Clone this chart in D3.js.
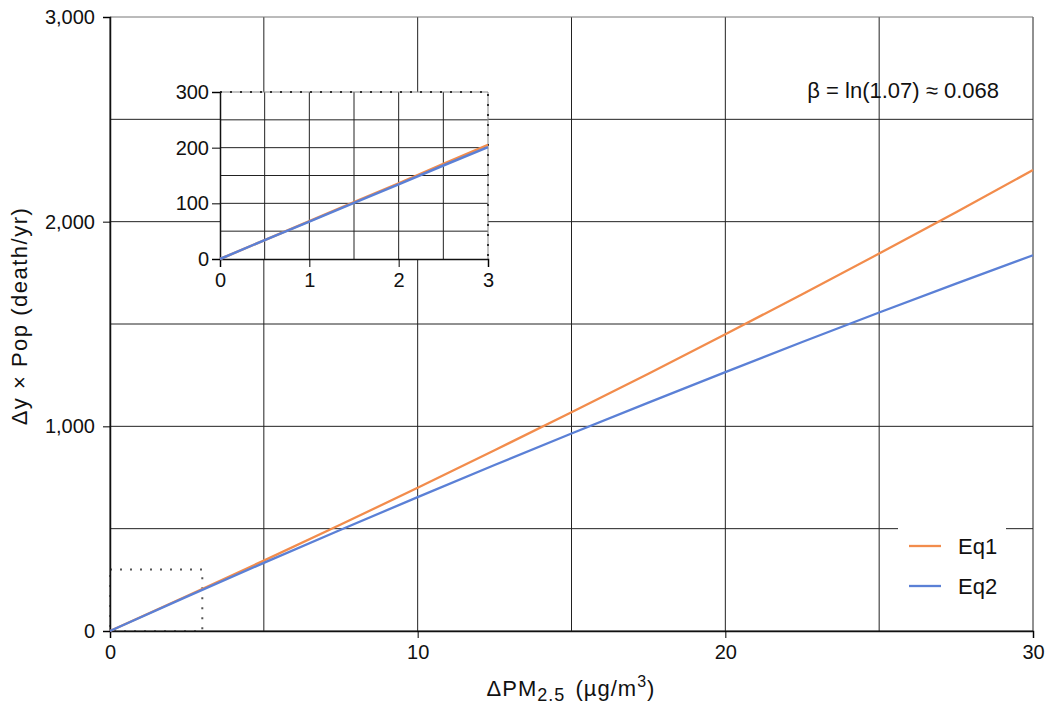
<!DOCTYPE html>
<html>
<head>
<meta charset="utf-8">
<script src="https://cdn.jsdelivr.net/npm/d3@7"></script>
<style>
  body { margin: 0; background: #fff; }
  svg { font-family: "Liberation Sans", Arial, sans-serif; }
</style>
</head>
<body>
<svg width="1049" height="707"></svg>
<script>
const svg = d3.select("svg");

// DATA
const mainX = [0, 2.5, 5, 7.5, 10, 12.5, 15, 17.5, 20, 22.5, 25, 27.5, 30];
const mainEq1 = [0, 171, 344, 520, 700, 883, 1069, 1257, 1450, 1645, 1844, 2046, 2252];
const mainEq2 = [0, 168, 333, 495, 654, 811, 965, 1116, 1265, 1412, 1556, 1697, 1836];

const insetX = [0, 0.5, 1, 1.5, 2, 2.5, 3];
const insetEq1 = [0, 34, 68, 102, 136, 171, 205];
const insetEq2 = [0, 34, 67, 101, 134, 168, 201];

const mainXTicks = [0, 10, 20, 30];
const mainYTicks = [0, 1000, 2000, 3000];
const mainXGrid = [0, 5, 10, 15, 20, 25, 30];
const mainYGrid = [0, 500, 1000, 1500, 2000, 2500, 3000];

const insetXTicks = [0, 1, 2, 3];
const insetYTicks = [0, 100, 200, 300];
const insetXGrid = [0.5, 1, 1.5, 2, 2.5];
const insetYGrid = [50, 100, 150, 200, 250];

const seriesNames = ["Eq1", "Eq2"];
const colors = { Eq1: "#f28c4c", Eq2: "#5b80d6" };

// SCALES
const x = d3.scaleLinear().domain([0, 30]).range([110, 1033]);
const y = d3.scaleLinear().domain([0, 3000]).range([631, 17]);
const ix = d3.scaleLinear().domain([0, 3]).range([220, 488]);
const iy = d3.scaleLinear().domain([0, 300]).range([259, 92]);

const tickFont = "20px";
const gridColor = "#222";

// MAIN GRID
const grid = svg.append("g");
grid.selectAll(".vx").data(mainXGrid).enter().append("line")
  .attr("x1", d => x(d)).attr("x2", d => x(d))
  .attr("y1", y(0)).attr("y2", y(3000))
  .attr("stroke", gridColor).attr("stroke-width", 1);
grid.selectAll(".hy").data(mainYGrid).enter().append("line")
  .attr("x1", x(0)).attr("x2", x(30))
  .attr("y1", d => y(d)).attr("y2", d => y(d))
  .attr("stroke", d => d === 3000 ? "#777" : gridColor).attr("stroke-width", 1);

// dotted box marking the inset range
svg.append("rect")
  .attr("x", x(0)).attr("y", y(300))
  .attr("width", x(3) - x(0)).attr("height", y(0) - y(300))
  .attr("fill", "none").attr("stroke", "#555")
  .attr("stroke-width", 2).attr("stroke-dasharray", "2,8");

// MAIN AXES
const xAxis = d3.axisBottom(x).tickValues(mainXTicks).tickSize(7).tickFormat(d3.format(","));
const yAxis = d3.axisLeft(y).tickValues(mainYTicks).tickSize(7).tickFormat(d3.format(","));

svg.append("g").attr("transform", `translate(0,${y(0)})`).call(xAxis)
  .call(g => g.select(".domain").attr("stroke", "#111").attr("stroke-width", 1.5))
  .call(g => g.selectAll("text").attr("font-size", tickFont).attr("fill", "#111").attr("dy", "0.9em"));
svg.append("g").attr("transform", `translate(${x(0)},0)`).call(yAxis)
  .call(g => g.select(".domain").attr("stroke", "#111").attr("stroke-width", 1.5))
  .call(g => g.selectAll("text").attr("font-size", tickFont).attr("fill", "#111").attr("x", -15));

// MAIN LINES
const line = d3.line().x(d => x(d[0])).y(d => y(d[1]));
const mainSeries = { Eq1: mainEq1, Eq2: mainEq2 };
seriesNames.forEach(name => {
  svg.append("path")
    .datum(mainX.map((v, i) => [v, mainSeries[name][i]]))
    .attr("d", line)
    .attr("fill", "none").attr("stroke", colors[name]).attr("stroke-width", 2.3);
});

// INSET
const inset = svg.append("g");
inset.append("rect")
  .attr("x", ix(0)).attr("y", iy(300))
  .attr("width", ix(3) - ix(0)).attr("height", iy(0) - iy(300))
  .attr("fill", "#fff");
inset.selectAll(".ivx").data(insetXGrid).enter().append("line")
  .attr("x1", d => ix(d)).attr("x2", d => ix(d))
  .attr("y1", iy(0)).attr("y2", iy(300))
  .attr("stroke", gridColor).attr("stroke-width", 1);
inset.selectAll(".ihy").data(insetYGrid).enter().append("line")
  .attr("x1", ix(0)).attr("x2", ix(3))
  .attr("y1", d => iy(d)).attr("y2", d => iy(d))
  .attr("stroke", gridColor).attr("stroke-width", 1);
// top and right frame: thin line with dots on it
inset.append("path")
  .attr("d", `M${ix(0)},${iy(300)}H${ix(3)}V${iy(0)}`)
  .attr("fill", "none").attr("stroke", "#888").attr("stroke-width", 1);
inset.append("path")
  .attr("d", `M${ix(0)},${iy(300)}H${ix(3)}V${iy(0)}`)
  .attr("fill", "none").attr("stroke", "#333").attr("stroke-width", 2)
  .attr("stroke-dasharray", "2,8");

const ixAxis = d3.axisBottom(ix).tickValues(insetXTicks).tickSize(8).tickFormat(d3.format("d"));
const iyAxis = d3.axisLeft(iy).tickValues(insetYTicks).tickSize(8).tickFormat(d3.format("d"));
inset.append("g").attr("transform", `translate(0,${iy(0)})`).call(ixAxis)
  .call(g => g.select(".domain").attr("stroke", "#111").attr("stroke-width", 1.5))
  .call(g => g.selectAll("text").attr("font-size", tickFont).attr("fill", "#111").attr("dy", "0.85em"));
inset.append("g").attr("transform", `translate(${ix(0)},0)`).call(iyAxis)
  .call(g => g.select(".domain").attr("stroke", "#111").attr("stroke-width", 1.5))
  .call(g => g.selectAll("text").attr("font-size", tickFont).attr("fill", "#111").attr("x", -11));

const iline = d3.line().x(d => ix(d[0])).y(d => iy(d[1]));
const insetSeries = { Eq1: insetEq1, Eq2: insetEq2 };
seriesNames.forEach(name => {
  inset.append("path")
    .datum(insetX.map((v, i) => [v, insetSeries[name][i]]))
    .attr("d", iline)
    .attr("fill", "none").attr("stroke", colors[name]).attr("stroke-width", 2.5);
});

// LEGEND
const legend = svg.append("g");
legend.append("rect")
  .attr("x", 898).attr("y", 516).attr("width", 108).attr("height", 100)
  .attr("fill", "#fff");
seriesNames.forEach((name, i) => {
  const ly = 546 + i * 40;
  legend.append("line")
    .attr("x1", 909).attr("x2", 941).attr("y1", ly).attr("y2", ly)
    .attr("stroke", colors[name]).attr("stroke-width", 2.3);
  legend.append("text")
    .attr("x", 958).attr("y", ly).attr("dy", "0.35em")
    .attr("font-size", "22px").attr("fill", "#111")
    .text(name);
});

// ANNOTATION
svg.append("text")
  .attr("x", 999).attr("y", 98)
  .attr("text-anchor", "end")
  .attr("font-size", "22px").attr("fill", "#111")
  .text("β = ln(1.07) ≈ 0.068");

// AXIS TITLES
const xt = svg.append("text")
  .attr("x", 571).attr("y", 696)
  .attr("text-anchor", "middle")
  .attr("font-size", "22px").attr("fill", "#111")
  .attr("letter-spacing", "1px");
xt.append("tspan").text("ΔPM");
xt.append("tspan").attr("font-size", "18px").attr("dy", 5).text("2.5");
xt.append("tspan").attr("dy", -5).attr("dx", 3).text(" (µg/m");
xt.append("tspan").attr("font-size", "16px").attr("dy", -9).text("3");
xt.append("tspan").attr("dy", 9).text(")");

svg.append("text")
  .attr("transform", `translate(27,316) rotate(-90)`)
  .attr("text-anchor", "middle")
  .attr("font-size", "22px").attr("fill", "#111")
  .attr("letter-spacing", "1.5px")
  .text("Δy × Pop (death/yr)");
</script>
</body>
</html>
